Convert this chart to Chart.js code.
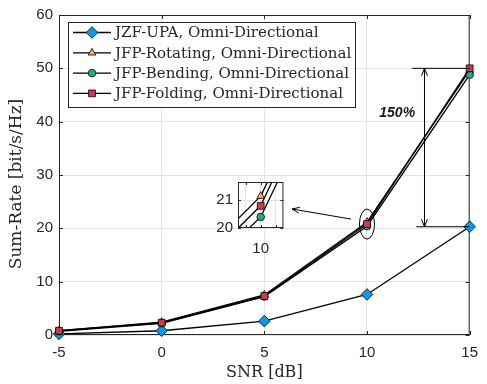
<!DOCTYPE html>
<html>
<head>
<meta charset="utf-8">
<script src="https://cdn.jsdelivr.net/npm/chart.js@4.4.1/dist/chart.umd.min.js"></script>
<style>
  body { margin: 0; background: #fff; }
  #wrap { position: relative; width: 487px; height: 384px; }
  #main { position: absolute; left: 0; top: 0; }
  #inset { position: absolute; left: 206px; top: 168px; }
</style>
</head>
<body>
<div id="wrap">
  <canvas id="main" width="487" height="384"></canvas>
  <canvas id="inset" width="84" height="86"></canvas>
</div>
<script>
// data
const snrDb = [-5, 0, 5, 10, 15];
const jzfUpa = [0.2, 0.8, 2.6, 7.6, 20.3];
const jfpRotating = [0.8, 2.4, 7.5, 21.15, 49.6];
const jfpBending = [0.7, 2.2, 7.2, 20.4, 48.8];
const jfpFolding = [0.8, 2.3, 7.3, 20.8, 50.0];
const seriesNames = [
    'JZF-UPA, Omni-Directional',
    'JFP-Rotating, Omni-Directional',
    'JFP-Bending, Omni-Directional',
    'JFP-Folding, Omni-Directional'
];
const xTicks = [-5, 0, 5, 10, 15];
const yTicks = [0, 10, 20, 30, 40, 50, 60];
const insetXTicks = [9.8, 10, 10.2];
const insetYTicks = [20, 21];
const gainLabel = '150%';

const axisColor = '#262626';
const gridColor = '#e3e3e3';
const tickFont = { family: '"Liberation Sans", Arial, sans-serif', size: 15 };
const legendFont = '15px "DejaVu Serif", serif';
const xTitleFont = '16px "DejaVu Serif", serif';
const yTitleFont = '17px "DejaVu Serif", serif';

const styles = [
    { color: '#0f97e8', pointStyle: 'rectRot', radius: 5.8 },
    { color: '#f4b062', pointStyle: 'triangle', radius: 4.5 },
    { color: '#1dae84', pointStyle: 'circle', radius: 3.8 },
    { color: '#d2394b', pointStyle: 'rect', radius: 4.8 }
];

function makeDatasets(clip) {
    return [jzfUpa, jfpRotating, jfpBending, jfpFolding].map((vals, i) => ({
        label: seriesNames[i],
        data: snrDb.map((x, j) => ({ x: x, y: vals[j] })),
        borderColor: '#000',
        borderWidth: 1.3,
        pointStyle: styles[i].pointStyle,
        pointRadius: styles[i].radius,
        pointHoverRadius: styles[i].radius,
        pointBackgroundColor: styles[i].color,
        pointBorderColor: '#000',
        pointBorderWidth: 0.8,
        order: 3 - i,
        clip: clip
    }));
}

function innerTicks(ctx, a, xs, ys, xScale, yScale, len) {
    ctx.beginPath();
    xs.forEach(v => {
        const px = Math.round(xScale.getPixelForValue(v)) + 0.5;
        ctx.moveTo(px, a.bottom); ctx.lineTo(px, a.bottom - len);
        ctx.moveTo(px, a.top); ctx.lineTo(px, a.top + len);
    });
    ys.forEach(v => {
        const py = Math.round(yScale.getPixelForValue(v)) + 0.5;
        ctx.moveTo(a.left, py); ctx.lineTo(a.left + len, py);
        ctx.moveTo(a.right, py); ctx.lineTo(a.right - len, py);
    });
    ctx.stroke();
}

function arrowHead(ctx, x1, y1, x2, y2) {
    const ang = Math.atan2(y2 - y1, x2 - x1);
    const len = 8, spread = 0.38;
    ctx.beginPath();
    ctx.moveTo(x2 - len * Math.cos(ang - spread), y2 - len * Math.sin(ang - spread));
    ctx.lineTo(x2, y2);
    ctx.lineTo(x2 - len * Math.cos(ang + spread), y2 - len * Math.sin(ang + spread));
    ctx.stroke();
}

const mainDecor = {
    id: 'mainDecor',
    beforeDatasetsDraw(chart) {
        const { ctx, chartArea: a, scales: { x, y } } = chart;
        ctx.save();
        ctx.strokeStyle = axisColor;
        ctx.lineWidth = 1;
        ctx.strokeRect(a.left + 0.5, a.top + 0.5, a.right - a.left - 1, a.bottom - a.top - 1);
        innerTicks(ctx, a, xTicks, yTicks, x, y, 4);
        ctx.restore();
    },
    afterDraw(chart) {
        const { ctx, chartArea: a, scales: { x, y } } = chart;
        ctx.save();
        ctx.strokeStyle = '#000';
        ctx.fillStyle = '#000';
        ctx.lineWidth = 1;

        // gain bracket between the two curves at 15 dB
        const last = snrDb.length - 1;
        const topY = y.getPixelForValue(jfpFolding[last]);
        const botY = y.getPixelForValue(jzfUpa[last]);
        const ax = x.getPixelForValue(12.8);
        ctx.beginPath();
        ctx.moveTo(x.getPixelForValue(12.2), topY); ctx.lineTo(a.right, topY);
        ctx.moveTo(x.getPixelForValue(12.4), botY); ctx.lineTo(a.right, botY);
        ctx.moveTo(ax, topY); ctx.lineTo(ax, botY);
        ctx.stroke();
        arrowHead(ctx, ax, botY, ax, topY);
        arrowHead(ctx, ax, topY, ax, botY);

        ctx.font = 'italic bold 14px "Liberation Sans", Arial, sans-serif';
        ctx.textAlign = 'center';
        ctx.textBaseline = 'middle';
        ctx.fillStyle = '#1a1a1a';
        ctx.fillText(gainLabel, x.getPixelForValue(11.47), y.getPixelForValue(41.6));

        // ellipse around the 10 dB points and arrow to the inset
        const ex = x.getPixelForValue(10), ey = y.getPixelForValue(20.8);
        ctx.beginPath();
        ctx.ellipse(ex, ey, 7.5, 15, 0, 0, Math.PI * 2);
        ctx.stroke();
        const sx = ex - 16, sy = ey - 5, tx = 292, ty = 209;
        ctx.beginPath();
        ctx.moveTo(sx, sy); ctx.lineTo(tx, ty);
        ctx.stroke();
        arrowHead(ctx, sx, sy, tx, ty);

        // legend
        const lx = 68.5, ly = 22.5, lw = 287, lh = 85;
        ctx.fillStyle = '#fff';
        ctx.fillRect(lx, ly, lw, lh);
        ctx.strokeStyle = axisColor;
        ctx.strokeRect(lx, ly, lw, lh);
        ctx.font = legendFont;
        ctx.textAlign = 'left';
        ctx.textBaseline = 'middle';
        seriesNames.forEach((name, i) => {
            const yy = 32.5 + i * 20.3;
            ctx.strokeStyle = '#000';
            ctx.lineWidth = 1.3;
            ctx.beginPath();
            ctx.moveTo(73, yy); ctx.lineTo(111, yy);
            ctx.stroke();
            ctx.fillStyle = styles[i].color;
            ctx.lineWidth = 0.8;
            Chart.helpers.drawPoint(ctx, {
                pointStyle: styles[i].pointStyle, radius: styles[i].radius,
                rotation: 0, borderWidth: 0.8
            }, 92, yy);
            ctx.fillStyle = axisColor;
            ctx.fillText(name, 115, yy + 1);
        });

        // axis titles
        ctx.fillStyle = axisColor;
        ctx.font = xTitleFont;
        ctx.textAlign = 'center';
        ctx.fillText('SNR [dB]', (a.left + a.right) / 2, 373);
        ctx.font = yTitleFont;
        ctx.translate(17, 184);
        ctx.rotate(-Math.PI / 2);
        ctx.fillText('Sum-Rate [bit/s/Hz]', 0, 0);
        ctx.restore();
    }
};

new Chart(document.getElementById('main'), {
    type: 'line',
    data: { datasets: makeDatasets(false) },
    options: {
        responsive: false,
        animation: false,
        events: [],
        layout: { padding: { top: 13, right: 11, left: 0, bottom: 0 } },
        plugins: { legend: { display: false }, tooltip: { enabled: false } },
        scales: {
            x: {
                type: 'linear', min: -5, max: 15,
                afterBuildTicks: s => { s.ticks = xTicks.map(v => ({ value: v })); },
                afterFit: s => { s.height = 49; },
                grid: { color: gridColor, drawTicks: false },
                border: { display: false },
                ticks: { font: tickFont, color: axisColor, padding: 9, maxRotation: 0 }
            },
            y: {
                min: 0, max: 60,
                afterBuildTicks: s => { s.ticks = yTicks.map(v => ({ value: v })); },
                afterFit: s => { s.width = 59; },
                grid: { color: gridColor, drawTicks: false },
                border: { display: false },
                ticks: { font: tickFont, color: axisColor, padding: 6 }
            }
        }
    },
    plugins: [mainDecor]
});

const insetDecor = {
    id: 'insetDecor',
    beforeDraw(chart) {
        const { ctx, chartArea: a } = chart;
        ctx.save();
        ctx.fillStyle = '#fff';
        ctx.fillRect(a.left, a.top, a.right - a.left, a.bottom - a.top);
        ctx.restore();
    },
    afterDatasetsDraw(chart) {
        const { ctx, chartArea: a, scales: { x, y } } = chart;
        ctx.save();
        ctx.strokeStyle = axisColor;
        ctx.lineWidth = 1;
        ctx.strokeRect(a.left + 0.5, a.top + 0.5, a.right - a.left - 1, a.bottom - a.top - 1);
        innerTicks(ctx, a, insetXTicks, insetYTicks, x, y, 3);
        ctx.restore();
    }
};

new Chart(document.getElementById('inset'), {
    type: 'line',
    data: { datasets: makeDatasets(0) },
    options: {
        responsive: false,
        animation: false,
        events: [],
        layout: { padding: { top: 4, right: 6, left: 0, bottom: 0 } },
        plugins: { legend: { display: false }, tooltip: { enabled: false } },
        scales: {
            x: {
                type: 'linear', min: 9.7, max: 10.3,
                afterBuildTicks: s => { s.ticks = insetXTicks.map(v => ({ value: v })); },
                afterFit: s => { s.height = 26; },
                grid: { color: gridColor, drawTicks: false },
                border: { display: false },
                ticks: {
                    font: tickFont, color: axisColor, padding: 12, maxRotation: 0,
                    callback: v => (v === 10 ? '10' : '')
                }
            },
            y: {
                min: 20, max: 21.66,
                afterBuildTicks: s => { s.ticks = insetYTicks.map(v => ({ value: v })); },
                afterFit: s => { s.width = 32; },
                grid: { color: gridColor, drawTicks: false },
                border: { display: false },
                ticks: { font: tickFont, color: axisColor, padding: 5 }
            }
        }
    },
    plugins: [insetDecor]
});
</script>
</body>
</html>
